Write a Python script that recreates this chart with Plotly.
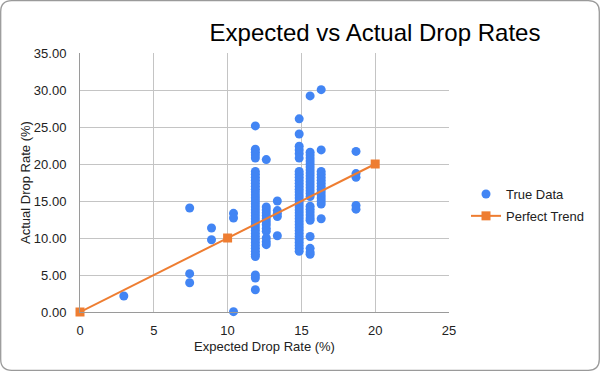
import plotly.graph_objects as go

# ---- data ----
expected_cols = [2.97, 7.43, 8.91, 10.40, 11.88, 12.62, 13.37, 14.85, 15.59, 16.34, 18.70]

actual_2_97 = [2.16]
actual_7_43 = [14.05, 5.18, 3.96]
actual_8_91 = [11.35, 9.77]
actual_10_40 = [13.33, 12.70, 0.05]
actual_11_88 = [25.15, 22.0, 21.6, 21.2, 20.8, 19.0, 18.6, 18.2, 17.8, 17.4, 17.0, 16.6,
                16.2, 15.8, 15.4, 15.0, 14.6, 14.2, 13.8, 13.4, 13.0, 12.6, 12.2, 11.8,
                11.4, 11.0, 10.6, 10.2, 9.8, 9.4, 9.0, 8.6, 8.2, 7.8, 7.5, 5.0, 4.6, 3.0]
actual_12_62 = [20.6, 14.2, 13.8, 13.4, 13.0, 12.6, 12.2, 11.8, 11.3, 10.9, 10.0, 9.5, 9.1]
actual_13_37 = [15.0, 13.7, 13.3, 12.9, 10.3]
actual_14_85 = [26.1, 24.05, 22.4, 21.9, 21.4, 20.8, 19.0, 18.6, 18.2, 17.8, 17.4, 17.0,
                16.6, 16.2, 15.8, 15.4, 15.0, 14.6, 14.2, 13.8, 13.4, 13.0, 12.6, 12.2,
                11.8, 11.4, 11.0, 10.6, 10.2, 9.8, 9.4, 9.0, 8.6, 8.2]
actual_15_59 = [29.2, 21.6, 21.2, 20.8, 20.4, 20.0, 19.6, 19.2, 18.8, 18.4, 18.0, 17.6,
                17.2, 16.8, 16.4, 16.0, 15.6, 14.3, 13.9, 13.5, 13.1, 12.7, 12.4, 10.2,
                8.6, 8.1, 7.8]
actual_16_34 = [30.05, 21.9, 19.0, 18.6, 18.2, 17.8, 17.4, 17.0, 16.6, 16.2, 15.8, 15.4,
                15.0, 14.6, 12.6]
actual_18_70 = [21.7, 18.7, 18.2, 14.4, 13.9]

actual_cols = [actual_2_97, actual_7_43, actual_8_91, actual_10_40, actual_11_88,
               actual_12_62, actual_13_37, actual_14_85, actual_15_59, actual_16_34,
               actual_18_70]

trend_x = [0, 10, 20]
trend_y = [0, 10, 20]

x_ticks = [0, 5, 10, 15, 20, 25]
y_ticks = [0, 5, 10, 15, 20, 25, 30, 35]

true_x, true_y = [], []
for ex, vals in zip(expected_cols, actual_cols):
    for v in vals:
        true_x.append(ex)
        true_y.append(v)

BLUE = "#4285F4"
ORANGE = "#EE7D31"
FONT = "Liberation Sans, Arial, sans-serif"

W, H = 600, 371
ML, MR, MT, MB = 80, 151, 53, 59

fig = go.Figure()
fig.add_trace(go.Scatter(
    x=true_x, y=true_y, mode="markers", name="True Data",
    marker=dict(color=BLUE, size=9, line=dict(width=0)),
    cliponaxis=False, legendgroup="a"))
fig.add_trace(go.Scatter(
    x=trend_x, y=trend_y, mode="lines+markers", name="Perfect Trend",
    line=dict(color=ORANGE, width=2),
    marker=dict(color=ORANGE, size=9, symbol="square"),
    cliponaxis=False, legendgroup="b"))

# rounded border around the whole chart (container px -> paper coords)
pw, ph = W - ML - MR, H - MT - MB
def px(x):
    return (x - ML) / pw
def py(y):
    return 1 - (y - MT) / ph
r = 11
x0, x1, y0, y1 = 0.7, W - 0.7, 0.7, H - 0.7
path = (f"M {px(x0 + r)},{py(y0)} L {px(x1 - r)},{py(y0)} "
        f"Q {px(x1)},{py(y0)} {px(x1)},{py(y0 + r)} "
        f"L {px(x1)},{py(y1 - r)} Q {px(x1)},{py(y1)} {px(x1 - r)},{py(y1)} "
        f"L {px(x0 + r)},{py(y1)} Q {px(x0)},{py(y1)} {px(x0)},{py(y1 - r)} "
        f"L {px(x0)},{py(y0 + r)} Q {px(x0)},{py(y0)} {px(x0 + r)},{py(y0)} Z")

fig.update_layout(
    width=W, height=H, autosize=False,
    margin=dict(l=ML, r=MR, t=MT, b=MB),
    paper_bgcolor="white", plot_bgcolor="white",
    font=dict(family=FONT, size=13, color="#222222"),
    title=dict(text="Expected vs Actual Drop Rates", x=375 / W, xref="container",
               xanchor="center", y=1 - 33 / H, yref="container", yanchor="middle",
               font=dict(size=24, color="#000000", family=FONT)),
    xaxis=dict(range=[0, 25], tickvals=x_ticks, ticktext=[str(v) for v in x_ticks],
               showgrid=True, gridcolor="#C4C4C4", gridwidth=1, automargin=False,
               showline=True, linecolor="#9A9A9A", linewidth=1, zeroline=False,
               ticks="", ticklabelstandoff=6,
               title=dict(text="Expected Drop Rate (%)", standoff=5,
                          font=dict(size=13))),
    yaxis=dict(range=[0, 35], tickvals=y_ticks, ticktext=[f"{v:.2f}" for v in y_ticks],
               showgrid=True, gridcolor="#C4C4C4", gridwidth=1, automargin=False,
               showline=True, linecolor="#9A9A9A", linewidth=1, zeroline=False,
               ticks="", ticklabelstandoff=10,
               title=dict(text="Actual Drop Rate (%)", standoff=0,
                          font=dict(size=13))),
    legend=dict(x=466 / W, y=1 - 205 / H, xref="container", yref="container",
                xanchor="left", yanchor="middle",
                traceorder="grouped", tracegroupgap=2,
                font=dict(size=13, color="#222222"), bgcolor="rgba(0,0,0,0)"),
    shapes=[dict(type="path", path=path, xref="paper", yref="paper",
                 line=dict(color="#9A9A9A", width=1.3), fillcolor="rgba(0,0,0,0)",
                 layer="above")],
)

fig.write_html("out.html",
               config={"displayModeBar": False, "responsive": False},
               post_script="document.body.style.margin='0';")
